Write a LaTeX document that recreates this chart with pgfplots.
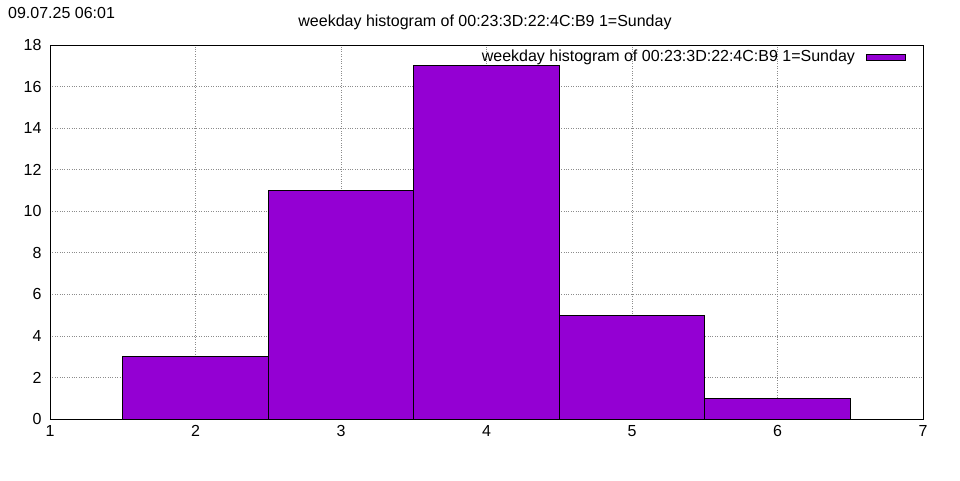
\documentclass[border=0pt]{standalone}
\usepackage{pgfplots}
\pgfplotsset{compat=1.18}
\usepackage{fontspec}
\setmainfont{Liberation Sans}
\definecolor{gpviolet}{HTML}{9400D3}
\pgfplotsset{gplegbox/.style={legend image code/.code={\draw[#1] (10pt,-3pt) rectangle (49pt,3pt);}}}
\begin{document}
\fontsize{16}{18}\selectfont
\begin{tikzpicture}[x=1pt,y=1pt]
\path (0,0) rectangle (960,480);
\node[anchor=base west,inner sep=0] at (8,461) {09.07.25 06:01};
\node[anchor=base,inner sep=0] at (485,453) {weekday histogram of 00:23:3D:22:4C:B9 1=Sunday};
\begin{axis}[
  at={(50pt,61pt)}, anchor=south west,
  scale only axis, width=873pt, height=374pt,
  xmin=1, xmax=7, ymin=0, ymax=18,
  xtick={1,2,3,4,5,6,7}, ytick={0,2,...,18},
  major tick length=0pt,
  grid=major,
  major grid style={dotted, gray!90, line width=0.7pt},
  axis line style={black, line width=0.8pt},
  tick label style={font=\fontsize{16}{18}\selectfont},
  /pgf/number format/assume math mode=true,
  xticklabel style={yshift=-1pt},
  yticklabel style={xshift=-3pt},
  legend style={draw=none, fill=none, at={(0.9814,0.995)}, anchor=north east,
    font=\fontsize{16}{18}\selectfont, inner sep=1pt},
  legend plot pos=right,
  legend cell align=right,
]
\addplot[ybar, bar width=1, bar shift=0pt, fill=gpviolet, draw=black, line width=0.6pt, gplegbox]
  coordinates {(2,3) (3,11) (4,17) (5,5) (6,1)};
\addlegendentry{weekday histogram of 00:23:3D:22:4C:B9 1=Sunday\hspace*{9pt}}
\end{axis}
\end{tikzpicture}
\end{document}
